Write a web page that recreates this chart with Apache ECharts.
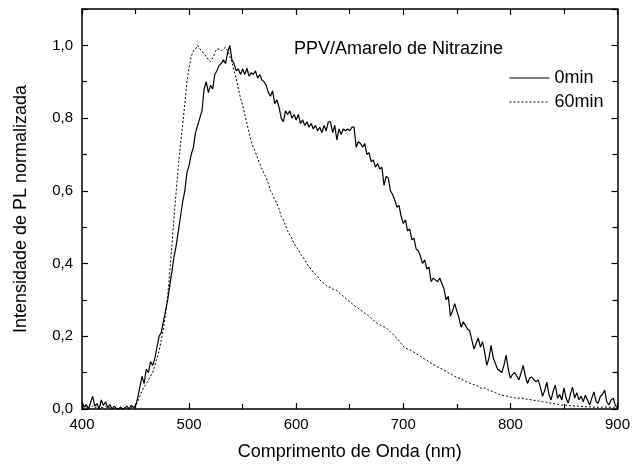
<!DOCTYPE html>
<html><head><meta charset="utf-8">
<script src="https://cdn.jsdelivr.net/npm/echarts@6/dist/echarts.min.js"></script>
<style>html,body{margin:0;padding:0;background:#fff}#c{width:633px;height:468px}</style>
</head><body><div id="c"></div>
<script>
// wavelengths 400..900 nm, step 2
const wavelength = [];
for (let w = 400; w <= 900; w += 2) wavelength.push(w);

const min0 = [
0.02,0.005,0.012,0.0,0.018,0.035,0.008,0.015,0.0,0.025,0.01,0.02,0.004,0.012,0.0,0.008,0.002,0.0,0.005,0.0,0.003,0.008,0.0,0.01,0.005,
0.01,0.03,0.06,0.09,0.07,0.11,0.1,0.13,0.12,0.14,0.17,0.2,0.21,0.24,0.27,0.3,0.34,0.38,0.42,0.45,0.49,0.53,0.57,0.6,0.65,0.67,0.7,0.72,0.76,0.78,0.8,0.82,0.88,0.9,0.87,0.89,0.88,0.92,0.93,0.945,0.95,0.96,0.95,0.98,1.0,
0.96,0.95,0.93,0.935,0.92,0.935,0.92,0.937,0.915,0.925,0.92,0.93,0.91,0.92,0.905,0.9,0.89,0.87,0.86,0.875,0.84,0.85,0.83,0.8,0.79,0.82,0.81,0.82,0.8,0.81,
0.795,0.81,0.785,0.795,0.78,0.79,0.775,0.785,0.77,0.78,0.765,0.775,0.76,0.78,0.765,0.79,0.79,0.76,0.78,0.74,0.77,0.755,0.77,0.765,0.77,0.765,0.775,0.775,0.72,0.735,
0.73,0.72,0.73,0.7,0.705,0.68,0.685,0.665,0.675,0.66,0.665,0.615,0.64,0.635,0.6,0.59,0.575,0.555,0.56,0.53,
0.51,0.52,0.49,0.495,0.465,0.47,0.44,0.435,0.42,0.4,0.41,0.385,0.39,0.35,0.36,0.355,0.35,0.36,0.345,0.33,
0.3,0.31,0.255,0.27,0.29,0.27,0.25,0.225,0.24,0.23,0.22,0.215,0.19,0.165,0.18,0.195,0.17,0.185,0.155,0.12,
0.14,0.175,0.14,0.125,0.11,0.105,0.1,0.12,0.148,0.11,
0.085,0.095,0.1,0.09,0.08,0.1,0.12,0.09,0.07,0.085,0.088,0.08,0.075,0.08,0.06,0.035,0.05,0.074,0.04,0.025,
0.05,0.066,0.03,0.04,0.025,0.058,0.03,0.016,0.04,0.06,0.03,0.045,0.025,0.035,0.02,0.038,0.025,0.011,0.03,0.047,
0.02,0.016,0.035,0.04,0.052,0.02,0.011,0.025,0.03,0.01,0.003
];

const min60 = [
0.004,0.002,0.006,0.0,0.005,0.008,0.003,0.006,0.0,0.004,0.005,0.007,0.002,0.004,0.0,0.003,0.001,0.0,0.002,0.0,0.002,0.003,0.0,0.004,0.003,
0.005,0.02,0.035,0.05,0.06,0.07,0.08,0.09,0.1,0.12,0.14,0.16,0.19,0.22,0.26,0.31,0.38,0.45,0.53,0.6,0.67,0.73,0.78,0.84,0.9,0.94,0.97,0.985,0.99,1.0,0.99,0.985,0.975,0.97,0.96,0.955,0.965,0.98,0.99,0.99,0.985,0.99,0.995,0.985,0.97,
0.955,0.93,0.91,0.88,0.855,0.835,0.81,0.785,0.76,0.735,0.72,0.705,0.69,0.675,0.66,0.648,0.635,0.62,0.6,0.59,0.575,0.565,0.55,0.53,0.52,0.505,0.49,0.478,0.47,0.455,
0.445,0.44,0.425,0.42,0.41,0.4,0.39,0.385,0.375,0.37,0.365,0.355,0.35,0.345,0.34,0.335,0.335,0.33,0.328,0.325,0.32,0.315,0.31,0.305,0.3,0.295,0.29,0.285,0.28,0.277,
0.272,0.268,0.264,0.26,0.255,0.25,0.245,0.239,0.235,0.232,0.228,0.226,0.224,0.218,0.212,0.207,0.2,0.195,0.188,0.18,
0.172,0.168,0.165,0.163,0.16,0.156,0.152,0.148,0.144,0.14,0.137,0.134,0.13,0.126,0.122,0.119,0.116,0.113,0.11,0.107,
0.104,0.1,0.097,0.094,0.09,0.087,0.085,0.082,0.079,0.076,0.074,0.071,0.069,0.067,0.065,0.062,0.058,0.056,0.058,0.055,
0.052,0.05,0.047,0.045,0.042,0.04,0.038,0.037,0.036,0.034,
0.033,0.032,0.031,0.03,0.03,0.03,0.029,0.028,0.027,0.026,0.025,0.024,0.023,0.022,0.021,0.02,0.02,0.018,0.017,0.016,
0.015,0.014,0.013,0.012,0.011,0.011,0.01,0.01,0.009,0.009,0.008,0.008,0.008,0.007,0.007,0.006,0.006,0.006,0.005,0.005,
0.005,0.005,0.005,0.005,0.005,0.005,0.005,0.005,0.005,0.005,0.005
];

const seriesNames = ['0min', '60min'];
const chartTitle = 'PPV/Amarelo de Nitrazine';
const xTitle = 'Comprimento de Onda (nm)';
const yTitle = 'Intensidade de PL normalizada';

const FONT = '"Liberation Sans", Arial, sans-serif';
const pairs = arr => wavelength.map((w, i) => [w, arr[i]]);
const fmtY = v => v.toFixed(1).replace('.', ',');

const chart = echarts.init(document.getElementById('c'), null, {renderer: 'canvas'});
const axisLine = {show: true, onZero: false, lineStyle: {color: '#000', width: 1.5}};
const tick = {show: true, inside: true, length: 6, lineStyle: {color: '#000', width: 1.2}};
const minor = {show: true, splitNumber: 2, length: 5, lineStyle: {color: '#000', width: 1.2}};

chart.setOption({
  backgroundColor: '#fff',
  animation: false,
  title: {text: chartTitle, left: 289, top: 35,
    textStyle: {fontFamily: FONT, fontSize: 18, fontWeight: 'normal', color: '#000'}},
  legend: {orient: 'vertical', left: 504, top: 64, itemWidth: 40, itemHeight: 18, itemGap: 6,
    itemStyle: {opacity: 0, borderWidth: 0},
    lineStyle: {width: 1},
    textStyle: {fontFamily: FONT, fontSize: 18, color: '#000'},
    data: seriesNames},
  grid: {left: 82, right: 15, top: 9, bottom: 59},
  xAxis: [{
    type: 'value', min: 400, max: 900, interval: 100,
    name: xTitle, nameLocation: 'middle', nameGap: 34,
    nameTextStyle: {fontFamily: FONT, fontSize: 18, color: '#000'},
    axisLine, axisTick: tick, minorTick: minor, splitLine: {show: false},
    axisLabel: {fontFamily: FONT, fontSize: 15, color: '#000', margin: 8}
  }, {
    type: 'value', position: 'top', min: 400, max: 900, interval: 100,
    axisLine, axisTick: tick, minorTick: minor, splitLine: {show: false},
    axisLabel: {show: false}
  }],
  yAxis: [{
    type: 'value', min: 0, max: 1.1, interval: 0.2,
    name: yTitle, nameLocation: 'middle', nameGap: 52,
    nameTextStyle: {fontFamily: FONT, fontSize: 18, color: '#000'},
    axisLine, axisTick: tick, minorTick: minor, splitLine: {show: false},
    axisLabel: {fontFamily: FONT, fontSize: 15, color: '#000', margin: 9, showMaxLabel: false,
      formatter: fmtY}
  }, {
    type: 'value', position: 'right', min: 0, max: 1.1, interval: 0.2,
    axisLine, axisTick: tick, minorTick: minor, splitLine: {show: false},
    axisLabel: {show: false}
  }],
  series: [{
    name: seriesNames[0], type: 'line', data: pairs(min0), symbol: 'none',
    lineStyle: {color: '#000', width: 1.2}, itemStyle: {color: '#000'}
  }, {
    name: seriesNames[1], type: 'line', data: pairs(min60), symbol: 'none',
    lineStyle: {color: '#000', width: 1, type: [2, 2]}, itemStyle: {color: '#000'}
  }]
});
</script></body></html>
